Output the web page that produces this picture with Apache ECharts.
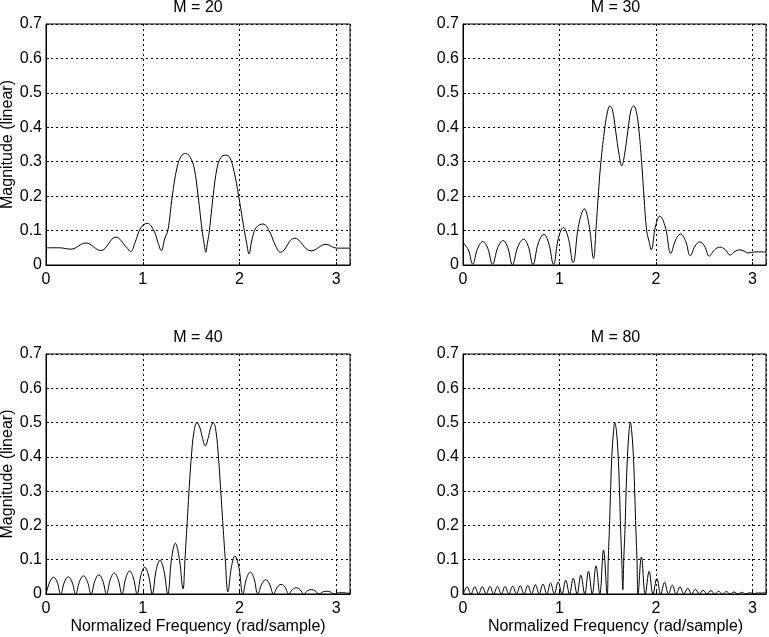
<!DOCTYPE html>
<html>
<head>
<meta charset="utf-8">
<script src="https://cdn.jsdelivr.net/npm/echarts@6/dist/echarts.min.js"></script>
<style>
html,body{margin:0;padding:0;background:#fff;}
#chart{width:769px;height:637px;}
</style>
</head>
<body>
<div id="chart"></div>
<script>
// ---- data: [frequency (rad/sample), magnitude] ----
const titles = ['M = 20', 'M = 30', 'M = 40', 'M = 80'];
const xTicks = [0, 1, 2, 3];
const yTicks = [0, 0.1, 0.2, 0.3, 0.4, 0.5, 0.6, 0.7];
const xName = 'Normalized Frequency (rad/sample)';
const yName = 'Magnitude (linear)';

const m20 = [[0.000,0.050],[0.137,0.050],[0.257,0.046],[0.412,0.064],[0.566,0.042],[0.721,0.081],[0.831,0.052],[0.875,0.039],[0.920,0.065],[0.978,0.107],[1.047,0.121],[1.116,0.099],[1.160,0.063],[1.191,0.042],[1.229,0.078],[1.260,0.101],[1.305,0.200],[1.353,0.282],[1.397,0.316],[1.442,0.324],[1.486,0.315],[1.531,0.282],[1.572,0.200],[1.613,0.101],[1.634,0.063],[1.651,0.037],[1.668,0.063],[1.689,0.101],[1.727,0.200],[1.768,0.282],[1.809,0.313],[1.854,0.319],[1.898,0.313],[1.943,0.272],[1.991,0.200],[2.049,0.101],[2.074,0.063],[2.098,0.032],[2.128,0.073],[2.173,0.109],[2.242,0.119],[2.307,0.099],[2.369,0.058],[2.424,0.037],[2.568,0.078],[2.739,0.041],[2.894,0.060],[3.004,0.049],[3.140,0.049]];

const m30 = [[0.000,0.065],[0.055,0.044],[0.100,0.003],
[0.153,0.049],[0.206,0.068],[0.256,0.049],[0.306,0.002],
[0.361,0.051],[0.416,0.071],[0.464,0.051],[0.512,0.001],
[0.570,0.054],[0.629,0.075],[0.677,0.054],[0.725,0.001],
[0.781,0.064],[0.838,0.089],[0.888,0.064],[0.938,0.002],
[0.990,0.079],[1.041,0.109],[1.091,0.079],[1.141,0.007],
[1.200,0.117],[1.258,0.163],[1.306,0.118],[1.354,0.019],
[1.378,0.100],[1.402,0.200],[1.430,0.300],[1.471,0.400],[1.498,0.445],[1.522,0.462],[1.550,0.450],[1.584,0.387],[1.619,0.319],[1.646,0.288],[1.674,0.319],[1.708,0.387],[1.742,0.450],[1.770,0.462],[1.797,0.445],[1.821,0.400],[1.852,0.300],[1.876,0.200],[1.904,0.100],[1.928,0.070],[1.952,0.044],
[1.996,0.113],[2.041,0.142],[2.098,0.110],[2.155,0.034],
[2.205,0.073],[2.254,0.090],[2.306,0.071],[2.357,0.027],
[2.406,0.055],[2.454,0.067],[2.504,0.055],[2.553,0.026],
[2.608,0.044],[2.663,0.052],[2.717,0.045],[2.770,0.029],
[2.822,0.040],[2.873,0.044],[2.916,0.040],[2.959,0.035],
[3.027,0.038],[3.140,0.038]];

const m40 = [[0.000,0.000],[0.039,0.035],[0.077,0.049],[0.115,0.035],[0.152,0.000],
[0.191,0.035],[0.230,0.050],[0.269,0.035],[0.307,0.000],
[0.347,0.037],[0.387,0.053],[0.427,0.037],[0.466,0.000],
[0.506,0.039],[0.546,0.056],[0.586,0.039],[0.625,0.000],
[0.665,0.043],[0.705,0.061],[0.745,0.043],[0.785,0.000],
[0.825,0.047],[0.864,0.067],[0.903,0.047],[0.942,0.000],
[0.981,0.055],[1.020,0.078],[1.059,0.055],[1.098,0.000],
[1.138,0.069],[1.178,0.099],[1.218,0.069],[1.258,0.000],
[1.298,0.104],[1.337,0.148],[1.377,0.104],[1.416,0.015],
[1.436,0.100],[1.457,0.200],[1.478,0.300],[1.502,0.400],[1.529,0.473],[1.560,0.500],[1.588,0.487],[1.619,0.453],[1.646,0.432],[1.674,0.453],[1.704,0.487],[1.729,0.500],[1.757,0.473],[1.782,0.400],[1.806,0.300],[1.829,0.200],[1.853,0.100],[1.880,0.006],
[1.916,0.078],[1.952,0.111],[1.993,0.078],[2.034,0.000],
[2.072,0.045],[2.111,0.064],[2.150,0.045],[2.189,0.000],
[2.230,0.029],[2.270,0.042],[2.310,0.029],[2.351,0.000],
[2.390,0.020],[2.430,0.028],[2.470,0.020],[2.509,0.000],
[2.547,0.013],[2.586,0.018],[2.625,0.013],[2.663,0.000],
[2.702,0.009],[2.742,0.013],[2.781,0.009],[2.821,0.000],
[2.860,0.006],[2.900,0.008],[2.940,0.006],[2.979,0.000],
[3.017,0.003],[3.055,0.004],[3.095,0.003],[3.140,0.002]];

const m80 = [[0.004,0],[0.043,0.021],[0.083,0],[0.122,0.021],[0.161,0],[0.200,0.021],[0.240,0],[0.279,0.022],[0.318,0],[0.357,0.022],[0.397,0],[0.436,0.022],[0.476,0],[0.515,0.023],[0.554,0],[0.593,0.024],[0.633,0],[0.672,0.025],[0.711,0],[0.750,0.027],[0.790,0],[0.829,0.029],[0.869,0],[0.908,0.032],[0.947,0],[0.986,0.035],[1.026,0],[1.065,0.040],[1.104,0],[1.143,0.046],[1.183,0],[1.222,0.055],[1.262,0],[1.301,0.066],[1.340,0],[1.379,0.082],[1.418,0],[1.457,0.128],[1.495,0],
[1.506,0.100],[1.519,0.200],[1.530,0.300],[1.543,0.400],[1.561,0.475],[1.574,0.500],[1.591,0.475],[1.609,0.400],[1.623,0.300],[1.633,0.200],[1.646,0.100],[1.657,0.012],[1.667,0.100],[1.681,0.200],[1.691,0.300],[1.705,0.400],[1.722,0.475],[1.736,0.500],[1.749,0.475],[1.767,0.400],[1.780,0.300],[1.791,0.200],[1.804,0.100],[1.815,0],
[1.850,0.108],[1.890,0],[1.930,0.066],[1.970,0],[2.010,0.045],[2.050,0],[2.090,0.034],[2.130,0],[2.170,0.026],[2.210,0],[2.250,0.021],[2.290,0],[2.330,0.017],[2.370,0],[2.410,0.014],[2.450,0],[2.490,0.011],[2.530,0],[2.570,0.010],[2.610,0],[2.650,0.008],[2.690,0],[2.730,0.007],[2.770,0],[2.810,0.006],[2.850,0],[2.890,0.005],[2.930,0],[2.970,0.004],[3.010,0.001],[3.050,0.003],[3.140,0.003]];

const curves = [m20, m30, m40, m80];

// ---- layout ----
const FONT = "'Liberation Sans', Arial, Helvetica, sans-serif";
const grids = [
  {left: 46, top: 24, width: 304, height: 241},
  {left: 463, top: 24, width: 305, height: 241},
  {left: 46, top: 354, width: 304, height: 240},
  {left: 463, top: 354, width: 305, height: 240}
];
const xLabelMargin = [7, 7, 7, 7];

const chart = echarts.init(document.getElementById('chart'), null, {renderer: 'canvas'});

const gridLine = {show: true, lineStyle: {color: '#000', width: 1, type: [2, 3]}};

const option = {
  backgroundColor: '#fff',
  animation: false,
  grid: grids.map(g => Object.assign({show: true, borderColor: '#000', borderWidth: 1, backgroundColor: 'transparent', containLabel: false}, g)),
  xAxis: grids.map((g, i) => ({
    type: 'value', gridIndex: i,
    min: xTicks[0], max: Math.PI, interval: 1,
    axisLine: {show: true, onZero: false, lineStyle: {color: '#000', width: 1}},
    axisTick: {show: true, inside: true, length: 3, lineStyle: {color: '#000'}},
    axisLabel: {
      show: true, margin: xLabelMargin[i], color: '#000', fontSize: 16, fontFamily: FONT,
      formatter: v => (xTicks.some(t => Math.abs(t - v) < 1e-6) ? String(Math.round(v)) : '')
    },
    splitLine: gridLine
  })),
  yAxis: grids.map((g, i) => ({
    type: 'value', gridIndex: i,
    min: yTicks[0], max: yTicks[yTicks.length - 1], interval: 0.1,
    axisLine: {show: true, onZero: false, lineStyle: {color: '#000', width: 1}},
    axisTick: {show: true, inside: true, length: 3, lineStyle: {color: '#000'}},
    axisLabel: {
      show: true, margin: 4, color: '#000', fontSize: 16, fontFamily: FONT,
      formatter: v => {
        const t = yTicks.find(t => Math.abs(t - v) < 1e-6);
        return t === undefined ? '' : String(t);
      }
    },
    splitLine: gridLine
  })),
  series: curves.map((c, i) => ({
    type: 'line', xAxisIndex: i, yAxisIndex: i,
    data: c, showSymbol: false, symbol: 'none',
    smooth: 0.4, clip: true,
    lineStyle: {color: '#000', width: 1},
    emphasis: {disabled: true}
  })),
  graphic: []
};

const txt = (text, x, y, rot) => ({
  type: 'text', x: x, y: y, rotation: rot || 0, silent: true,
  style: {text: text, fill: '#000', fontSize: 16, fontFamily: FONT,
          textAlign: 'center', textVerticalAlign: 'middle', align: 'center', verticalAlign: 'middle'}
});

grids.forEach((g, i) => {
  const cx = g.left + g.width / 2;
  option.graphic.push(txt(titles[i], cx, g.top - 16.3));
  if (i % 2 === 0) option.graphic.push(txt(yName, 7.8, g.top + g.height / 2, Math.PI / 2));
  if (i >= 2) option.graphic.push(txt(xName, cx, 627));
});

chart.setOption(option);
</script>
</body>
</html>
